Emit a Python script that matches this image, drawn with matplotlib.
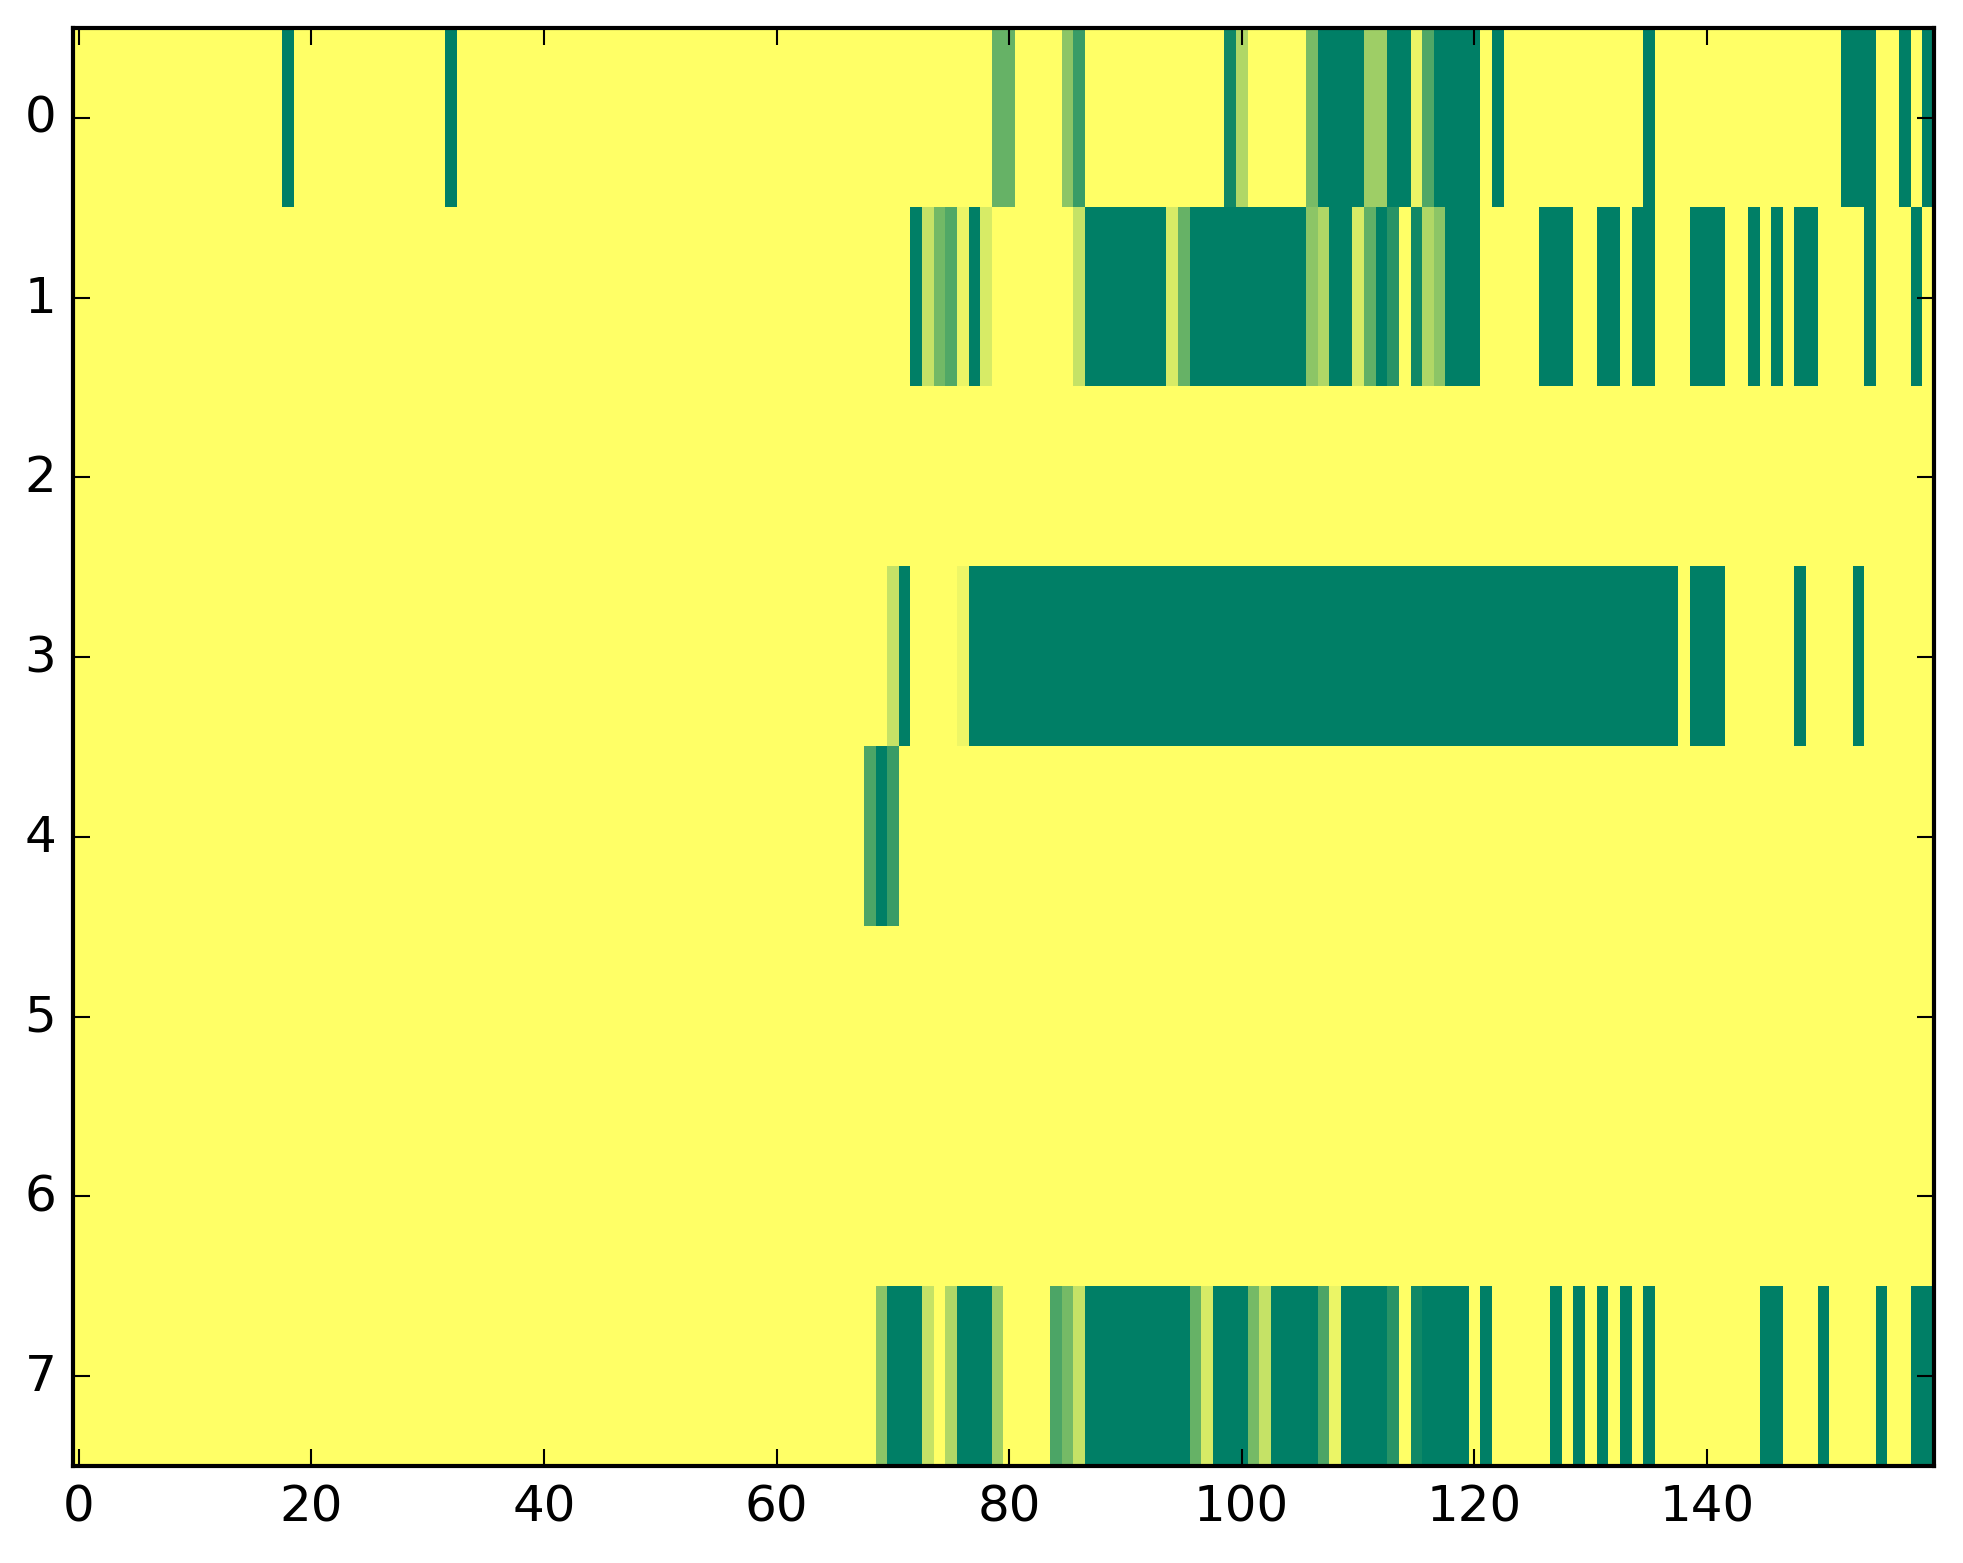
import numpy as np
import matplotlib
matplotlib.use("Agg")
import matplotlib.pyplot as plt

n_rows = 8
n_cols = 160

# non-zero cells per row: (first column, last column, value)
row_0 = [(18, 18, 1), (32, 32, 1), (79, 80, 0.6), (85, 85, 0.45), (86, 86, 0.77),
         (99, 99, 0.93), (100, 100, 0.31), (106, 106, 0.53), (107, 110, 1),
         (111, 112, 0.38), (113, 114, 1), (115, 115, 0.08), (116, 116, 0.69),
         (117, 120, 1), (122, 122, 1), (135, 135, 1), (152, 154, 1),
         (157, 157, 1), (159, 159, 1)]
row_1 = [(72, 72, 1), (73, 73, 0.23), (74, 74, 0.55), (75, 75, 0.68), (76, 76, 0.08),
         (77, 77, 1), (78, 78, 0.16), (86, 86, 0.23), (87, 93, 1), (94, 94, 0.16),
         (95, 95, 0.6), (96, 105, 1), (106, 106, 0.45), (107, 107, 0.31),
         (108, 109, 1), (110, 110, 0.16), (111, 111, 0.62), (112, 112, 1),
         (113, 113, 0.84), (115, 115, 0.93), (116, 116, 0.31), (117, 117, 0.45),
         (118, 120, 1), (126, 128, 1), (131, 132, 1), (134, 135, 1), (139, 141, 1),
         (144, 144, 1), (146, 146, 1), (148, 149, 1), (154, 154, 1), (158, 158, 1)]
row_2 = []
row_3 = [(70, 70, 0.23), (71, 71, 1), (76, 76, 0.07), (77, 137, 1), (139, 141, 1),
         (148, 148, 1), (153, 153, 1)]
row_4 = [(68, 68, 0.7), (69, 69, 1), (70, 70, 0.77)]
row_5 = []
row_6 = []
row_7 = [(69, 69, 0.45), (70, 72, 1), (73, 73, 0.23), (75, 75, 0.31), (76, 78, 1),
         (79, 79, 0.38), (84, 84, 0.7), (85, 85, 0.54), (86, 86, 0.23), (87, 95, 1),
         (96, 96, 0.6), (97, 97, 0.16), (98, 100, 1), (101, 101, 0.54),
         (102, 102, 0.23), (103, 106, 1), (107, 107, 0.7), (108, 108, 0.08),
         (109, 112, 1), (113, 113, 0.84), (115, 115, 0.93), (116, 119, 1),
         (121, 121, 1), (127, 127, 1), (129, 129, 1), (131, 131, 1), (133, 133, 1),
         (135, 135, 1), (145, 146, 1), (150, 150, 1), (155, 155, 1), (158, 159, 1)]

rows = [row_0, row_1, row_2, row_3, row_4, row_5, row_6, row_7]

grid = np.zeros((n_rows, n_cols))
for r, runs in enumerate(rows):
    for a, b, v in runs:
        grid[r, a:b + 1] = v

plt.style.use("classic")
fig = plt.figure(figsize=(1963 / 300, 1564 / 300), dpi=300)
ax = fig.add_axes([0.0372, 0.062, 0.9478, 0.9195])
ax.imshow(grid, cmap="summer_r", vmin=0, vmax=1, aspect="auto", interpolation="nearest")
ax.set_xticks([0, 20, 40, 60, 80, 100, 120, 140])
ax.set_yticks(range(n_rows))
ax.set_xlim(-0.5, n_cols - 0.5)
ax.set_ylim(n_rows - 0.5, -0.5)
ax.tick_params(labelsize=12)

fig.savefig("out.png", dpi=300)
